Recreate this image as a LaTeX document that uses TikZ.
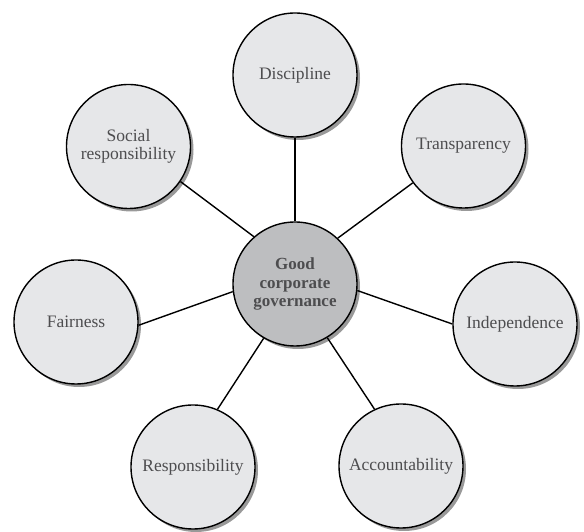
\documentclass[tikz,border=0pt]{standalone}
\usepackage{fontspec}
\setmainfont{Liberation Serif}
\usetikzlibrary{shadows}
\definecolor{outerfill}{HTML}{E6E7E9}
\definecolor{centerfill}{HTML}{BDBEC0}
\definecolor{txt}{HTML}{4D4D4F}
\tikzset{
  bubble/.style={circle, draw=black, line width=1.4pt, fill=outerfill, minimum size=124pt, inner sep=0pt,
    align=center, text=txt, font=\fontsize{17.5}{18.5}\selectfont,
    drop shadow={shadow xshift=3pt, shadow yshift=-3pt, fill=black!40, opacity=1}},
  hub/.style={bubble, fill=centerfill, font=\fontsize{17}{18.5}\selectfont\bfseries},
  link/.style={line width=1.4pt, draw=black}
}
\begin{document}
\begin{tikzpicture}[x=1pt,y=1pt]
\useasboundingbox (0,0) rectangle (584,532);
\node[hub] (c) at (295,248) {Good\\corporate\\governance};
\node[bubble] (disc) at (295,457) {Discipline};
\node[bubble] (soc) at (128.5,385.5) {Social\\responsibility};
\node[bubble] (trans) at (463.5,386) {Transparency};
\node[bubble] (fair) at (76,210) {Fairness};
\node[bubble] (indep) at (515,208) {Independence};
\node[bubble] (resp) at (193,65) {Responsibility};
\node[bubble] (acc) at (401,66) {Accountability};
\draw[link] (c.90) -- (disc.270);
\draw[link] (c.131) -- (soc.-34);
\draw[link] (c.47) -- (trans.-144);
\draw[link] (c.187) -- (fair.-3);
\draw[link] (c.-6) -- (indep.180);
\draw[link] (c.240) -- (resp.67);
\draw[link] (c.-59) -- (acc.115);
\end{tikzpicture}
\end{document}
